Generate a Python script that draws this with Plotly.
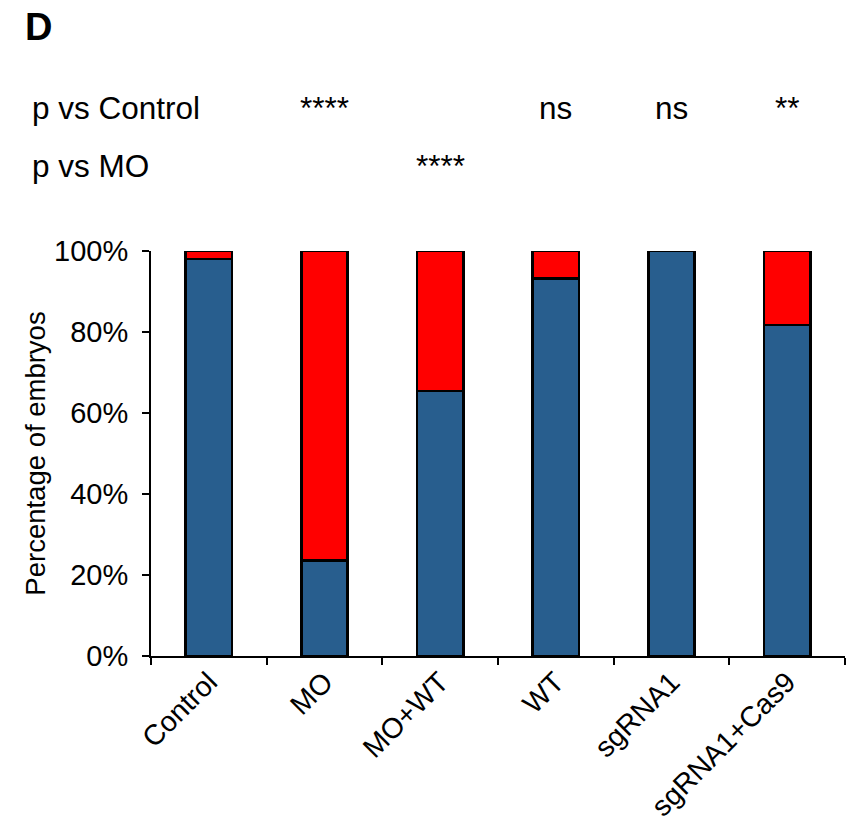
import plotly.graph_objects as go

# Embryo phenotype proportions per treatment group (percent of embryos)
groups = ["Control", "MO", "MO+WT", "WT", "sgRNA1", "sgRNA1+Cas9"]
normal_pct = [98.0, 23.6, 65.4, 93.2, 100.0, 81.7]
defect_pct = [round(100 - v, 1) for v in normal_pct]

# Significance labels
p_vs_control = {"MO": "****", "WT": "ns", "sgRNA1": "ns", "sgRNA1+Cas9": "**"}
p_vs_mo = {"MO+WT": "****"}

BLUE = "#285E8E"
RED = "#FF0000"
FONT = "Liberation Sans, Arial, sans-serif"

fig = go.Figure()
fig.add_trace(go.Bar(
    x=groups, y=normal_pct, marker=dict(color=BLUE, line=dict(color="black", width=2.5)),
    width=0.4, name="normal",
))
fig.add_trace(go.Bar(
    x=groups, y=defect_pct, marker=dict(color=RED, line=dict(color="black", width=2.5)),
    width=0.4, name="defect",
))

fig.update_layout(
    barmode="stack",
    width=866, height=826,
    margin=dict(l=151, r=21, t=251, b=170),
    plot_bgcolor="white", paper_bgcolor="white",
    showlegend=False,
    font=dict(family=FONT, color="black", size=29),
    xaxis=dict(
        type="category", tickson="boundaries", ticks="outside", ticklen=7,
        tickwidth=2, tickcolor="black", showline=True, linecolor="black", linewidth=2,
        tickangle=-45, tickfont=dict(size=28.5), showgrid=False, ticklabelstandoff=-4,
        automargin=False,
    ),
    yaxis=dict(
        range=[0, 100], tickvals=[0, 20, 40, 60, 80, 100],
        ticktext=["0%", "20%", "40%", "60%", "80%", "100%"],
        ticks="outside", ticklen=7, tickwidth=2, tickcolor="black",
        showline=True, linecolor="black", linewidth=2, showgrid=False, zeroline=False,
        tickfont=dict(size=29), ticklabelstandoff=8, automargin=False,
        title=dict(text="Percentage of embryos", font=dict(size=27.5), standoff=0),
    ),
)

PW, PH = 694, 405  # plot area size in px, used to place paper-relative text


def px_x(x):
    return (x - 151) / PW


def px_y(y):
    return 1 + (251 - y) / PH


# Panel letter
fig.add_annotation(text="<b>D</b>", xref="paper", yref="paper", x=px_x(23), y=px_y(27),
                   xanchor="left", yanchor="middle", showarrow=False, font=dict(size=38))

# p-value rows
row_y = {"p vs Control": 108, "p vs MO": 166}
for label, py in row_y.items():
    fig.add_annotation(text=label, xref="paper", yref="paper", x=px_x(30), y=px_y(py),
                       xanchor="left", yanchor="middle", showarrow=False,
                       font=dict(size=31.5))

for rowlabel, marks in (("p vs Control", p_vs_control), ("p vs MO", p_vs_mo)):
    py = row_y[rowlabel]
    for g, s in marks.items():
        fig.add_annotation(text=s, x=g, xref="x", yref="paper", y=px_y(py),
                           xanchor="center", yanchor="middle", showarrow=False,
                           font=dict(size=31.5))

fig.write_html("out.html")
